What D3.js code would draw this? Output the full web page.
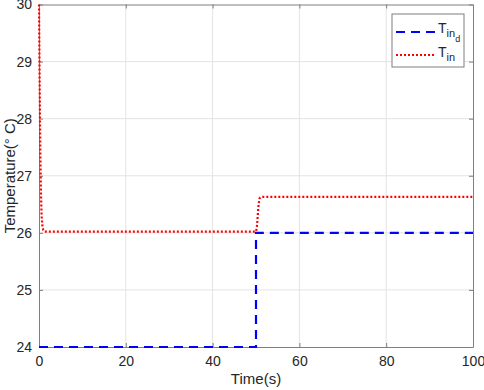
<!DOCTYPE html>
<html lang="en">
<head>
<meta charset="UTF-8">
<title>Temperature</title>
<style>
    body { margin:0; background:#fff; }
    text { font-family: "Liberation Sans", Arial, sans-serif; fill:#262626; }
</style>
</head>
<body>
<svg width="484" height="390"></svg>
<script src="https://d3js.org/d3.v7.min.js"></script>
<script>
// values
var tRef   = [0, 50, 50, 100];
var tinRef = [24, 24, 26, 26];
var tAct   = [0, 0.15, 0.3, 0.45, 0.6, 0.8, 1.0, 1.3, 50, 50.2, 50.4, 50.6, 50.8, 51.0, 51.3, 100];
var tinAct = [30, 28.6, 27.4, 26.7, 26.3, 26.1, 26.05, 26.02, 26.02, 26.1, 26.3, 26.5, 26.6, 26.62, 26.63, 26.63];
var xTicks = [0, 20, 40, 60, 80, 100];
var yTicks = [24, 25, 26, 27, 28, 29, 30];

var svg = d3.select("svg"),
    margin = {top: 4.5, right: 11, bottom: 43, left: 39},
    width = +svg.attr("width") - margin.left - margin.right,
    height = +svg.attr("height") - margin.top - margin.bottom,
    g = svg.append("g").attr("transform", "translate(" + margin.left + "," + margin.top + ")");

var x = d3.scaleLinear().domain([0, 100]).range([0, width]);
var y = d3.scaleLinear().domain([24, 30]).range([height, 0]);

// grid
g.append("g").selectAll("line").data(xTicks.slice(1, -1)).enter().append("line")
    .attr("x1", x).attr("x2", x).attr("y1", 0).attr("y2", height)
    .attr("stroke", "#e3e3e3").attr("stroke-width", 1);
g.append("g").selectAll("line").data(yTicks.slice(1, -1)).enter().append("line")
    .attr("y1", y).attr("y2", y).attr("x1", 0).attr("x2", width)
    .attr("stroke", "#e3e3e3").attr("stroke-width", 1);

// axes with inward ticks (box on all four sides)
g.append("g").attr("transform", "translate(0," + height + ")")
    .call(d3.axisBottom(x).tickValues(xTicks).tickFormat(d3.format("d"))
        .tickSizeInner(-4).tickSizeOuter(0).tickPadding(9));
g.append("g")
    .call(d3.axisLeft(y).tickValues(yTicks).tickFormat(d3.format("d"))
        .tickSizeInner(-4).tickSizeOuter(0).tickPadding(7));
g.append("g").attr("transform", "translate(" + width + ",0)")
    .call(d3.axisRight(y).tickValues(yTicks).tickSizeInner(-4).tickSizeOuter(0).tickFormat(""));
g.append("g")
    .call(d3.axisTop(x).tickValues(xTicks).tickSizeInner(-4).tickSizeOuter(0).tickFormat(""));
g.selectAll(".domain, .tick line").attr("stroke", "#7f7f7f");
g.selectAll(".tick text").attr("font-size", 14).attr("font-family", "Liberation Sans, Arial, sans-serif").attr("fill", "#262626");

var line = d3.line().x(function(d){ return x(d[0]); }).y(function(d){ return y(d[1]); });

g.append("path")
    .datum(tRef.map(function(t, i){ return [t, tinRef[i]]; }))
    .attr("d", line).attr("fill", "none")
    .attr("stroke", "#0000ff").attr("stroke-width", 2.2)
    .attr("stroke-dasharray", "9,6");

g.append("path")
    .datum(tAct.map(function(t, i){ return [t, tinAct[i]]; }))
    .attr("d", line).attr("fill", "none")
    .attr("stroke", "#ff0000").attr("stroke-width", 2.2)
    .attr("stroke-dasharray", "2,2");

// labels
svg.append("text")
    .attr("x", margin.left + width / 2).attr("y", 384)
    .attr("text-anchor", "middle").attr("font-size", 15)
    .text("Time(s)");
svg.append("text")
    .attr("transform", "translate(15," + (margin.top + height / 2) + ") rotate(-90)")
    .attr("text-anchor", "middle").attr("font-size", 15)
    .text("Temperature(° C)");

// legend
var lg = svg.append("g").attr("transform", "translate(392,14)");
lg.append("rect").attr("width", 72).attr("height", 53)
    .attr("fill", "#fff").attr("stroke", "#7f7f7f").attr("stroke-width", 1);
lg.append("line").attr("x1", 4).attr("x2", 44).attr("y1", 18).attr("y2", 18)
    .attr("stroke", "#0000ff").attr("stroke-width", 2.2).attr("stroke-dasharray", "9,6");
lg.append("line").attr("x1", 4).attr("x2", 44).attr("y1", 41).attr("y2", 41)
    .attr("stroke", "#ff0000").attr("stroke-width", 2.2).attr("stroke-dasharray", "2,2");

var t1 = lg.append("text").attr("x", 46).attr("y", 19).attr("font-size", 14);
t1.append("tspan").text("T");
t1.append("tspan").attr("dy", 4).attr("font-size", 11).text("in");
t1.append("tspan").attr("dy", 5).attr("font-size", 9).text("d");

var t2 = lg.append("text").attr("x", 46).attr("y", 43).attr("font-size", 14);
t2.append("tspan").text("T");
t2.append("tspan").attr("dy", 4).attr("font-size", 11).text("in");
</script>
</body>
</html>
